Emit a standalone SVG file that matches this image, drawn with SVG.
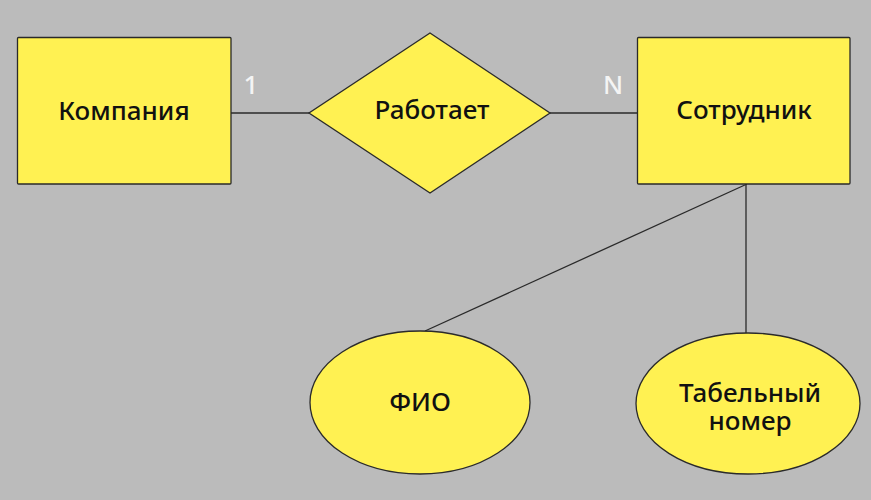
<svg xmlns="http://www.w3.org/2000/svg" width="871" height="500" viewBox="0 0 871 500">
<style>
.shape{fill:#fff152;stroke:#2a2a2a;stroke-width:1.3}
.lbl{font-family:"Noto Sans","Open Sans",sans-serif;font-weight:500;font-size:26px;fill:#111;text-anchor:middle}
.card{font-family:"Noto Sans","Open Sans",sans-serif;font-weight:500;font-size:26px;fill:#f4f4f4;text-anchor:middle}
.conn{stroke:#2a2a2a;stroke-width:1.3;fill:none}
</style>
<rect width="871" height="500" fill="#bbbbbb"/>
<g id="connectors">
<line class="conn" x1="231" y1="113" x2="309" y2="113"/>
<line class="conn" x1="550" y1="113" x2="637" y2="113"/>
<line class="conn" x1="747" y1="184" x2="425" y2="331"/>
<line class="conn" x1="746" y1="184" x2="746" y2="333"/>
<text class="card" x="251" y="94">1</text>
<text class="card" x="613" y="94">N</text>
</g>
<g id="company">
<rect class="shape" x="17.5" y="37.5" width="213.5" height="146.5" rx="1"/>
<text class="lbl" x="124" y="120">Компания</text>
</g>
<g id="works">
<polygon class="shape" points="430,33 550,113 430,193 309,113"/>
<text class="lbl" x="432" y="119">Работает</text>
</g>
<g id="employee">
<rect class="shape" x="637.5" y="37.5" width="212.5" height="146.5" rx="1"/>
<text class="lbl" x="744" y="119">Сотрудник</text>
</g>
<g id="fio">
<ellipse class="shape" cx="420" cy="402.5" rx="110" ry="71.5"/>
<text class="lbl" x="420" y="411">ФИО</text>
</g>
<g id="tabnum">
<ellipse class="shape" cx="748" cy="403.5" rx="112" ry="70.5"/>
<text class="lbl" x="750" y="402">Табельный</text>
<text class="lbl" x="750" y="430">номер</text>
</g>
</svg>
